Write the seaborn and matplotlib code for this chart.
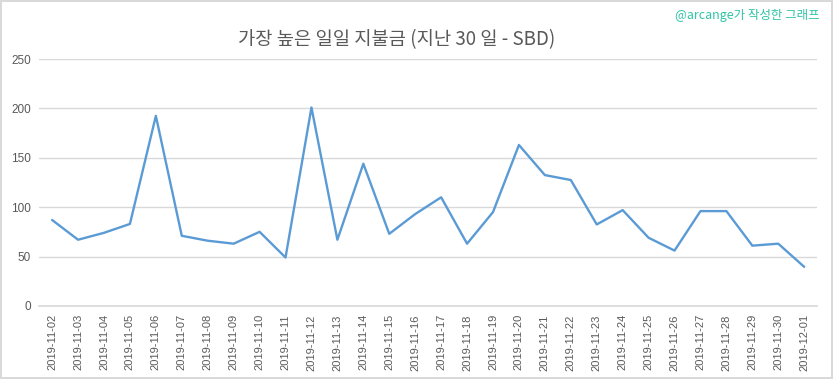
import numpy as np
import pandas as pd
import matplotlib
matplotlib.use("Agg")
import matplotlib.pyplot as plt
import seaborn as sns

dates = [
    "2019-11-02", "2019-11-03", "2019-11-04", "2019-11-05", "2019-11-06",
    "2019-11-07", "2019-11-08", "2019-11-09", "2019-11-10", "2019-11-11",
    "2019-11-12", "2019-11-13", "2019-11-14", "2019-11-15", "2019-11-16",
    "2019-11-17", "2019-11-18", "2019-11-19", "2019-11-20", "2019-11-21",
    "2019-11-22", "2019-11-23", "2019-11-24", "2019-11-25", "2019-11-26",
    "2019-11-27", "2019-11-28", "2019-11-29", "2019-11-30", "2019-12-01",
]
payout = [
    87, 67, 74, 83, 192.5, 71, 66, 63, 75, 49,
    201, 67, 144, 73, 93, 110, 63, 95, 163, 132.5,
    127.5, 82.5, 97, 69, 56, 96, 96, 61, 63, 39.5,
]
yticks = [0, 50, 100, 150, 200, 250]

title = "가장 높은 일일 지불금 (지난 30 일 - SBD)"
watermark = "@arcange가 작성한 그래프"

sns.set_theme(style="white")
plt.rcParams["font.family"] = ["Noto Sans CJK KR", "DejaVu Sans"]

df = pd.DataFrame({"date": dates, "payout": payout})

fig = plt.figure(figsize=(8.33, 3.79), dpi=100)
fig.patch.set_edgecolor("#d9d9d9")
fig.patch.set_linewidth(1.5)
ax = fig.add_axes([0.047, 0.193, 0.934, 0.651])

sns.lineplot(data=df, x="date", y="payout", ax=ax, color="#5b9bd5",
             linewidth=1.7, sort=False)

ax.set_xlim(-0.5, len(dates) - 0.5)
ax.set_ylim(0, 250)
ax.set_yticks(yticks)
ax.set_yticklabels([str(v) for v in yticks], fontsize=8.5, color="#595959",
                   family=["Liberation Sans", "DejaVu Sans"])
ax.set_xticks(range(len(dates)))
ax.set_xticklabels(dates, rotation=90, fontsize=8, color="#595959",
                   family=["Liberation Sans", "DejaVu Sans"])
ax.tick_params(axis="both", length=0, pad=6)
ax.grid(axis="y", color="#d9d9d9", linewidth=1)
ax.set_axisbelow(True)
for side in ["left", "right", "top"]:
    ax.spines[side].set_visible(False)
ax.spines["bottom"].set_color("#d9d9d9")
ax.set_xlabel("")
ax.set_ylabel("")

fig.text(0.476, 0.895, title, ha="center", va="center", fontsize=13.5,
         color="#595959")
fig.text(0.984, 0.958, watermark, ha="right", va="center", fontsize=9,
         color="#30c4a8")

fig.savefig("out.png", dpi=100, edgecolor=fig.get_edgecolor())
